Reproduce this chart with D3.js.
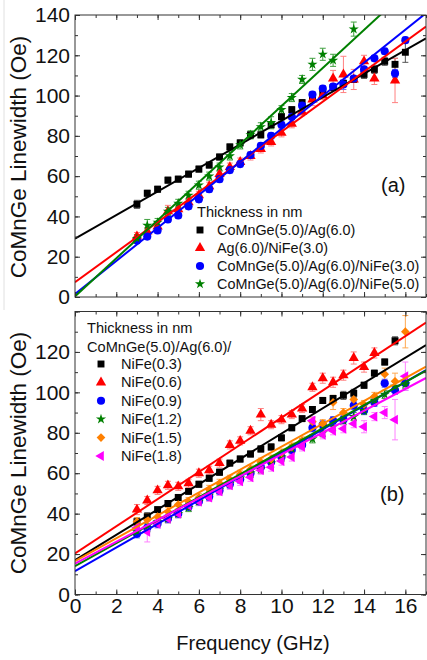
<!DOCTYPE html>
<html><head><meta charset="utf-8">
<script src="https://cdn.jsdelivr.net/npm/d3@7/dist/d3.min.js"></script>
<style>body{margin:0;background:#fff}svg{display:block;font-family:"Liberation Sans",Arial,sans-serif}</style>
</head><body><svg id="c" width="427" height="660"></svg>
<script>
// ---------- data ----------
const freq = [3,3.5,4,4.5,5,5.5,6,6.5,7,7.5,8,8.5,9,9.5,10,10.5,11,11.5,12,12.5,13,13.5,14,14.5,15,15.5,16];

// panel (a)
const aNames = ["CoMnGe(5.0)/Ag(6.0)","Ag(6.0)/NiFe(3.0)","CoMnGe(5.0)/Ag(6.0)/NiFe(3.0)","CoMnGe(5.0)/Ag(6.0)/NiFe(5.0)"];
const aBlack = [46,51.5,53.5,58,58.5,61,63.5,65.5,69.5,74.5,76.5,80.5,80.5,85.5,89.5,93,96.5,99,101.5,104,106,108,110.5,113,117,115.5,121.5];
const aBlackErr = [2,1.5,1.5,1.5,1.5,1.5,1.5,1.5,1.5,1.5,1.5,1.5,1.5,1.5,1.5,1.5,1.5,1.5,1.5,1.5,1.5,1.5,2,2,2,3,5];
const aRed = [30,32.5,35,42.5,43.5,47,50.5,55,61,64.5,67,70,73.5,77,81.5,86,92,98,100,108.5,110.5,108,117,108.5,null,107.5,null];
const aRedErr = [2,2,2,3,2,2,2,2,2,2,2,2,2,2,2,2,2,3,2,4,9,5,3,3,0,11,0];
const aBlue = [28,30,33,38.5,40.5,45,48.5,53.5,58.5,63,66,70.5,75,80,85.5,89.5,95,100.5,103.5,104.5,105.5,108.5,113,118.5,122,111,127.5];
const aBlueErr = [1.5,1.5,1.5,1.5,1.5,1.5,1.5,1.5,1.5,1.5,1.5,1.5,1.5,1.5,1.5,1.5,1.5,1.5,1.5,1.5,2.5,1.5,1.5,1.5,1.5,2,1.5];
const aGreen = [29,35.5,37,42.5,46.5,50.5,55.5,60,64.5,70,75.5,80.5,84.5,86.5,93,99,108,115.5,120.5,117.5,null,133,null,null,null,null,null];
const aGreenErr = [2,3,2,2,2,2,2,2,2,2,2,2,2,3,2,2,2,3,3,3,0,3.5,0,0,0,0,0];
const aFitIntercept = [29,7.3,1.5,0.3];
const aFitSlope = [5.85,7.47,8.2,9.45];

// panel (b)
const bNames = ["NiFe(0.3)","NiFe(0.6)","NiFe(0.9)","NiFe(1.2)","NiFe(1.5)","NiFe(1.8)"];
const bBlack = [36,38.5,42,45,48,51,54.5,57.5,60.5,65,67,69.5,72,73,77.5,82.5,87,91.5,96,97,98.5,99.5,103.5,109.5,115,125.5,null];
const bBlackErr = [2,2,1.5,1.5,1.5,1.5,1.5,1.5,1.5,1.5,1.5,1.5,1.5,1.5,1.5,1.5,1.5,1.5,1.5,1.5,2,2,1.5,1.5,1.5,2,0];
const bRed = [42,46.5,51.5,54,53.5,55,60,61.5,65,74,76,81,89,84,86.5,89,92,102.5,107,105,108.5,117,112.5,119.5,null,null,null];
const bRedErr = [2.5,2,2,2,2,2,2,2,2,2,2,2,3,2,2,2,2,2,2.5,2.5,2.5,3,2.5,2.5,0,0,0];
const bBlue = [30,33,35,37.5,40,43.5,46,48.5,51.5,54.5,57,60,63,65.5,68,71.5,74,82.5,84,86,86.5,93.5,91,95,104.5,101,104.5];
const bBlueErr = [2,2,2,2,2,2,2,2,2,2,2,2,2,2,2,2,2,2,2,2,2,2,2,2,2,2,3.5];
const bGreen = [31,33,36,37.5,40,43,46,49,52,55,57.5,60,62,65,68,72,75,77,80,83,86,88,91,96,99,103,104];
const bGreenErr = [2,2,2,2,2,2,2,2,2,2,2,2,2,2,2,2,2,2,2,2,2,2,2,2,2,2,2];
const bOrange = [36,37,38.5,41,44.5,46,48,52,55,57,59.5,62,65.5,67,70,73,76,85.5,84.5,95,90,96.5,94,98,109,105.5,130];
const bOrangeErr = [2,3,2,2,2,2,2,2,2,2,2,2,2,2,2,2,2,2,2,3.5,2,3,2,2,3,4,8];
const bMagenta = [33,31,35,37.5,40,44,46,48,51,54,56,58,61.5,63,66,68,73,86,79,81,82,84.5,83,88,90,86.5,108];
const bMagentaErr = [2,5,2,2,2,2,2,2,2,2,2,2,2,2,2,2,2,2,2,2,2,2,3,2,3,10,7];
const bFitIntercept = [17,20.3,11.5,14,16.5,15.3];
const bFitSlope = [6.26,6.72,5.85,5.69,5.66,5.4];

const yTickLabelsA = [0,20,40,60,80,100,120,140];
const yTickLabelsB = [0,20,40,60,80,100,120];
const xTickLabels = [0,2,4,6,8,10,12,14,16];

// ---------- drawing ----------
const svg = d3.select("#c");
const FONT = "'Liberation Sans', Arial, sans-serif";
const x = d3.scaleLinear().domain([0,17]).range([75,426]);
const yA = d3.scaleLinear().domain([0,140]).range([297,15]);
const yB = d3.scaleLinear().domain([0,140]).range([594.5,311.5]);

svg.append("line").attr("x1",4).attr("x2",4).attr("y1",0).attr("y2",310).attr("stroke","#e0e0e0");

const sym = {
  square: d3.symbol().type(d3.symbolSquare).size(48),
  tri: d3.symbol().type(d3.symbolTriangle).size(46),
  circ: d3.symbol().type(d3.symbolCircle).size(52),
  star: d3.symbol().type(d3.symbolStar).size(32),
  diamond: d3.symbol().type(d3.symbolSquare).size(38),
  left: d3.symbol().type(d3.symbolTriangle).size(42)
};
const rot = {square:0,tri:0,circ:0,star:0,diamond:45,left:-90};

function panel(y, series, intercepts, slopes, yLabels, showX, clipId){
  const g = svg.append("g");
  const x0 = x.range()[0], x1 = x.range()[1], yt = y.range()[1], yb = y.range()[0];
  g.append("clipPath").attr("id",clipId).append("rect")
    .attr("x",x0).attr("y",yt).attr("width",x1-x0).attr("height",yb-yt);
  const inner = g.append("g").attr("clip-path",`url(#${clipId})`);

  const minorX = d3.range(0,18,1), majorX = xTickLabels;
  const majorY = d3.range(0,141,20), minorY = d3.range(0,141,10);
  const ax = (gen, tr) => g.append("g").attr("transform",tr).call(gen).call(s=>s.select(".domain").remove());
  ax(d3.axisBottom(x).tickValues(minorX).tickSize(-3).tickFormat(""), `translate(0,${yb})`);
  ax(d3.axisBottom(x).tickValues(majorX).tickSize(-5).tickPadding(4)
      .tickFormat(showX ? d3.format("d") : ""), `translate(0,${yb})`);
  ax(d3.axisTop(x).tickValues(minorX).tickSize(-3).tickFormat(""), `translate(0,${yt})`);
  ax(d3.axisTop(x).tickValues(majorX).tickSize(-5).tickFormat(""), `translate(0,${yt})`);
  ax(d3.axisLeft(y).tickValues(minorY).tickSize(-3).tickFormat(""), `translate(${x0},0)`);
  ax(d3.axisLeft(y).tickValues(majorY).tickSize(-5).tickPadding(5)
      .tickFormat(d => yLabels.includes(d) ? d : ""), `translate(${x0},0)`);
  ax(d3.axisRight(y).tickValues(minorY).tickSize(-3).tickFormat(""), `translate(${x1},0)`);
  ax(d3.axisRight(y).tickValues(majorY).tickSize(-5).tickFormat(""), `translate(${x1},0)`);
  g.selectAll(".tick line").attr("stroke","#333");
  g.selectAll(".tick text").attr("font-size",21).attr("font-family",FONT).attr("fill","#111");

  series.forEach(s => {
    const pts = freq.map((f,i)=>({f, v:s.values[i], e:s.err[i]})).filter(p=>p.v!=null);
    const eg = inner.append("g").attr("stroke",s.errColor).attr("stroke-width",1);
    pts.forEach(p => {
      if(!p.e) return;
      const cx = x(p.f), ya = y(p.v+p.e), yb2 = y(p.v-p.e);
      eg.append("line").attr("x1",cx).attr("x2",cx).attr("y1",ya).attr("y2",yb2);
      eg.append("line").attr("x1",cx-3).attr("x2",cx+3).attr("y1",ya).attr("y2",ya);
      eg.append("line").attr("x1",cx-3).attr("x2",cx+3).attr("y1",yb2).attr("y2",yb2);
    });
  });
  series.forEach(s => {
    const pts = freq.map((f,i)=>({f, v:s.values[i]})).filter(p=>p.v!=null);
    inner.append("g").selectAll("path").data(pts).join("path")
      .attr("d", sym[s.shape]())
      .attr("transform", p => `translate(${x(p.f)},${y(p.v)}) rotate(${rot[s.shape]})`)
      .attr("fill", s.color);
  });
  series.forEach((s,i) => {
    inner.append("line")
      .attr("x1", x(0)).attr("y1", y(intercepts[i]))
      .attr("x2", x(17)).attr("y2", y(intercepts[i]+slopes[i]*17))
      .attr("stroke", s.color).attr("stroke-width", 2);
  });
  g.append("rect").attr("x",x0).attr("y",yt).attr("width",x1-x0).attr("height",yb-yt)
    .attr("fill","none").attr("stroke","#333").attr("stroke-width",1);
  return g;
}

const seriesA = [
  {values:aBlack, err:aBlackErr, color:"#000000", errColor:"#555555", shape:"square"},
  {values:aRed, err:aRedErr, color:"#ff0000", errColor:"#ff8080", shape:"tri"},
  {values:aBlue, err:aBlueErr, color:"#0000ff", errColor:"#6a6aff", shape:"circ"},
  {values:aGreen, err:aGreenErr, color:"#008000", errColor:"#40a040", shape:"star"}
];
const seriesB = [
  {values:bBlack, err:bBlackErr, color:"#000000", errColor:"#555555", shape:"square"},
  {values:bRed, err:bRedErr, color:"#ff0000", errColor:"#ff8080", shape:"tri"},
  {values:bBlue, err:bBlueErr, color:"#0000ff", errColor:"#6a6aff", shape:"circ"},
  {values:bGreen, err:bGreenErr, color:"#008000", errColor:"#40a040", shape:"star"},
  {values:bOrange, err:bOrangeErr, color:"#ff8000", errColor:"#ffa850", shape:"diamond"},
  {values:bMagenta, err:bMagentaErr, color:"#ff00ff", errColor:"#ff80ff", shape:"left"}
];

panel(yA, seriesA, aFitIntercept, aFitSlope, yTickLabelsA, false, "clipA");
panel(yB, seriesB, bFitIntercept, bFitSlope, yTickLabelsB, true, "clipB");

const txt = (t, xx, yy, size, opts={}) => svg.append("text").text(t)
  .attr("x",xx).attr("y",yy).attr("font-size",size).attr("font-family",FONT).attr("fill","#111")
  .attr("text-anchor",opts.anchor||"start").attr("transform",opts.transform||null);
txt("CoMnGe Linewidth (Oe)", 0, 0, 22.5, {anchor:"middle", transform:"translate(26,157) rotate(-90)"});
txt("CoMnGe Linewidth (Oe)", 0, 0, 22.5, {anchor:"middle", transform:"translate(26,453) rotate(-90)"});
txt("Frequency (GHz)", 253, 650, 20, {anchor:"middle"});
txt("(a)", 381, 192, 20);
txt("(b)", 380, 501, 20);

txt("Thickness in nm", 197, 217, 14.6);
aNames.forEach((n,i) => {
  const yy = 235 + i*18;
  const s = seriesA[i];
  svg.append("path").attr("d", sym[s.shape]()).attr("fill", s.color)
    .attr("transform",`translate(200,${yy-5}) rotate(${rot[s.shape]})`);
  txt(n, 217, yy, 14.4);
});
txt("Thickness in nm", 87, 333, 14.6);
txt("CoMnGe(5.0)/Ag(6.0)/", 87, 351.5, 14.6);
bNames.forEach((n,i) => {
  const yy = 369 + i*18.4;
  const s = seriesB[i];
  svg.append("path").attr("d", sym[s.shape]()).attr("fill", s.color)
    .attr("transform",`translate(101,${yy-5}) rotate(${rot[s.shape]})`);
  txt(n, 121, yy, 14.6);
});
</script></body></html>
